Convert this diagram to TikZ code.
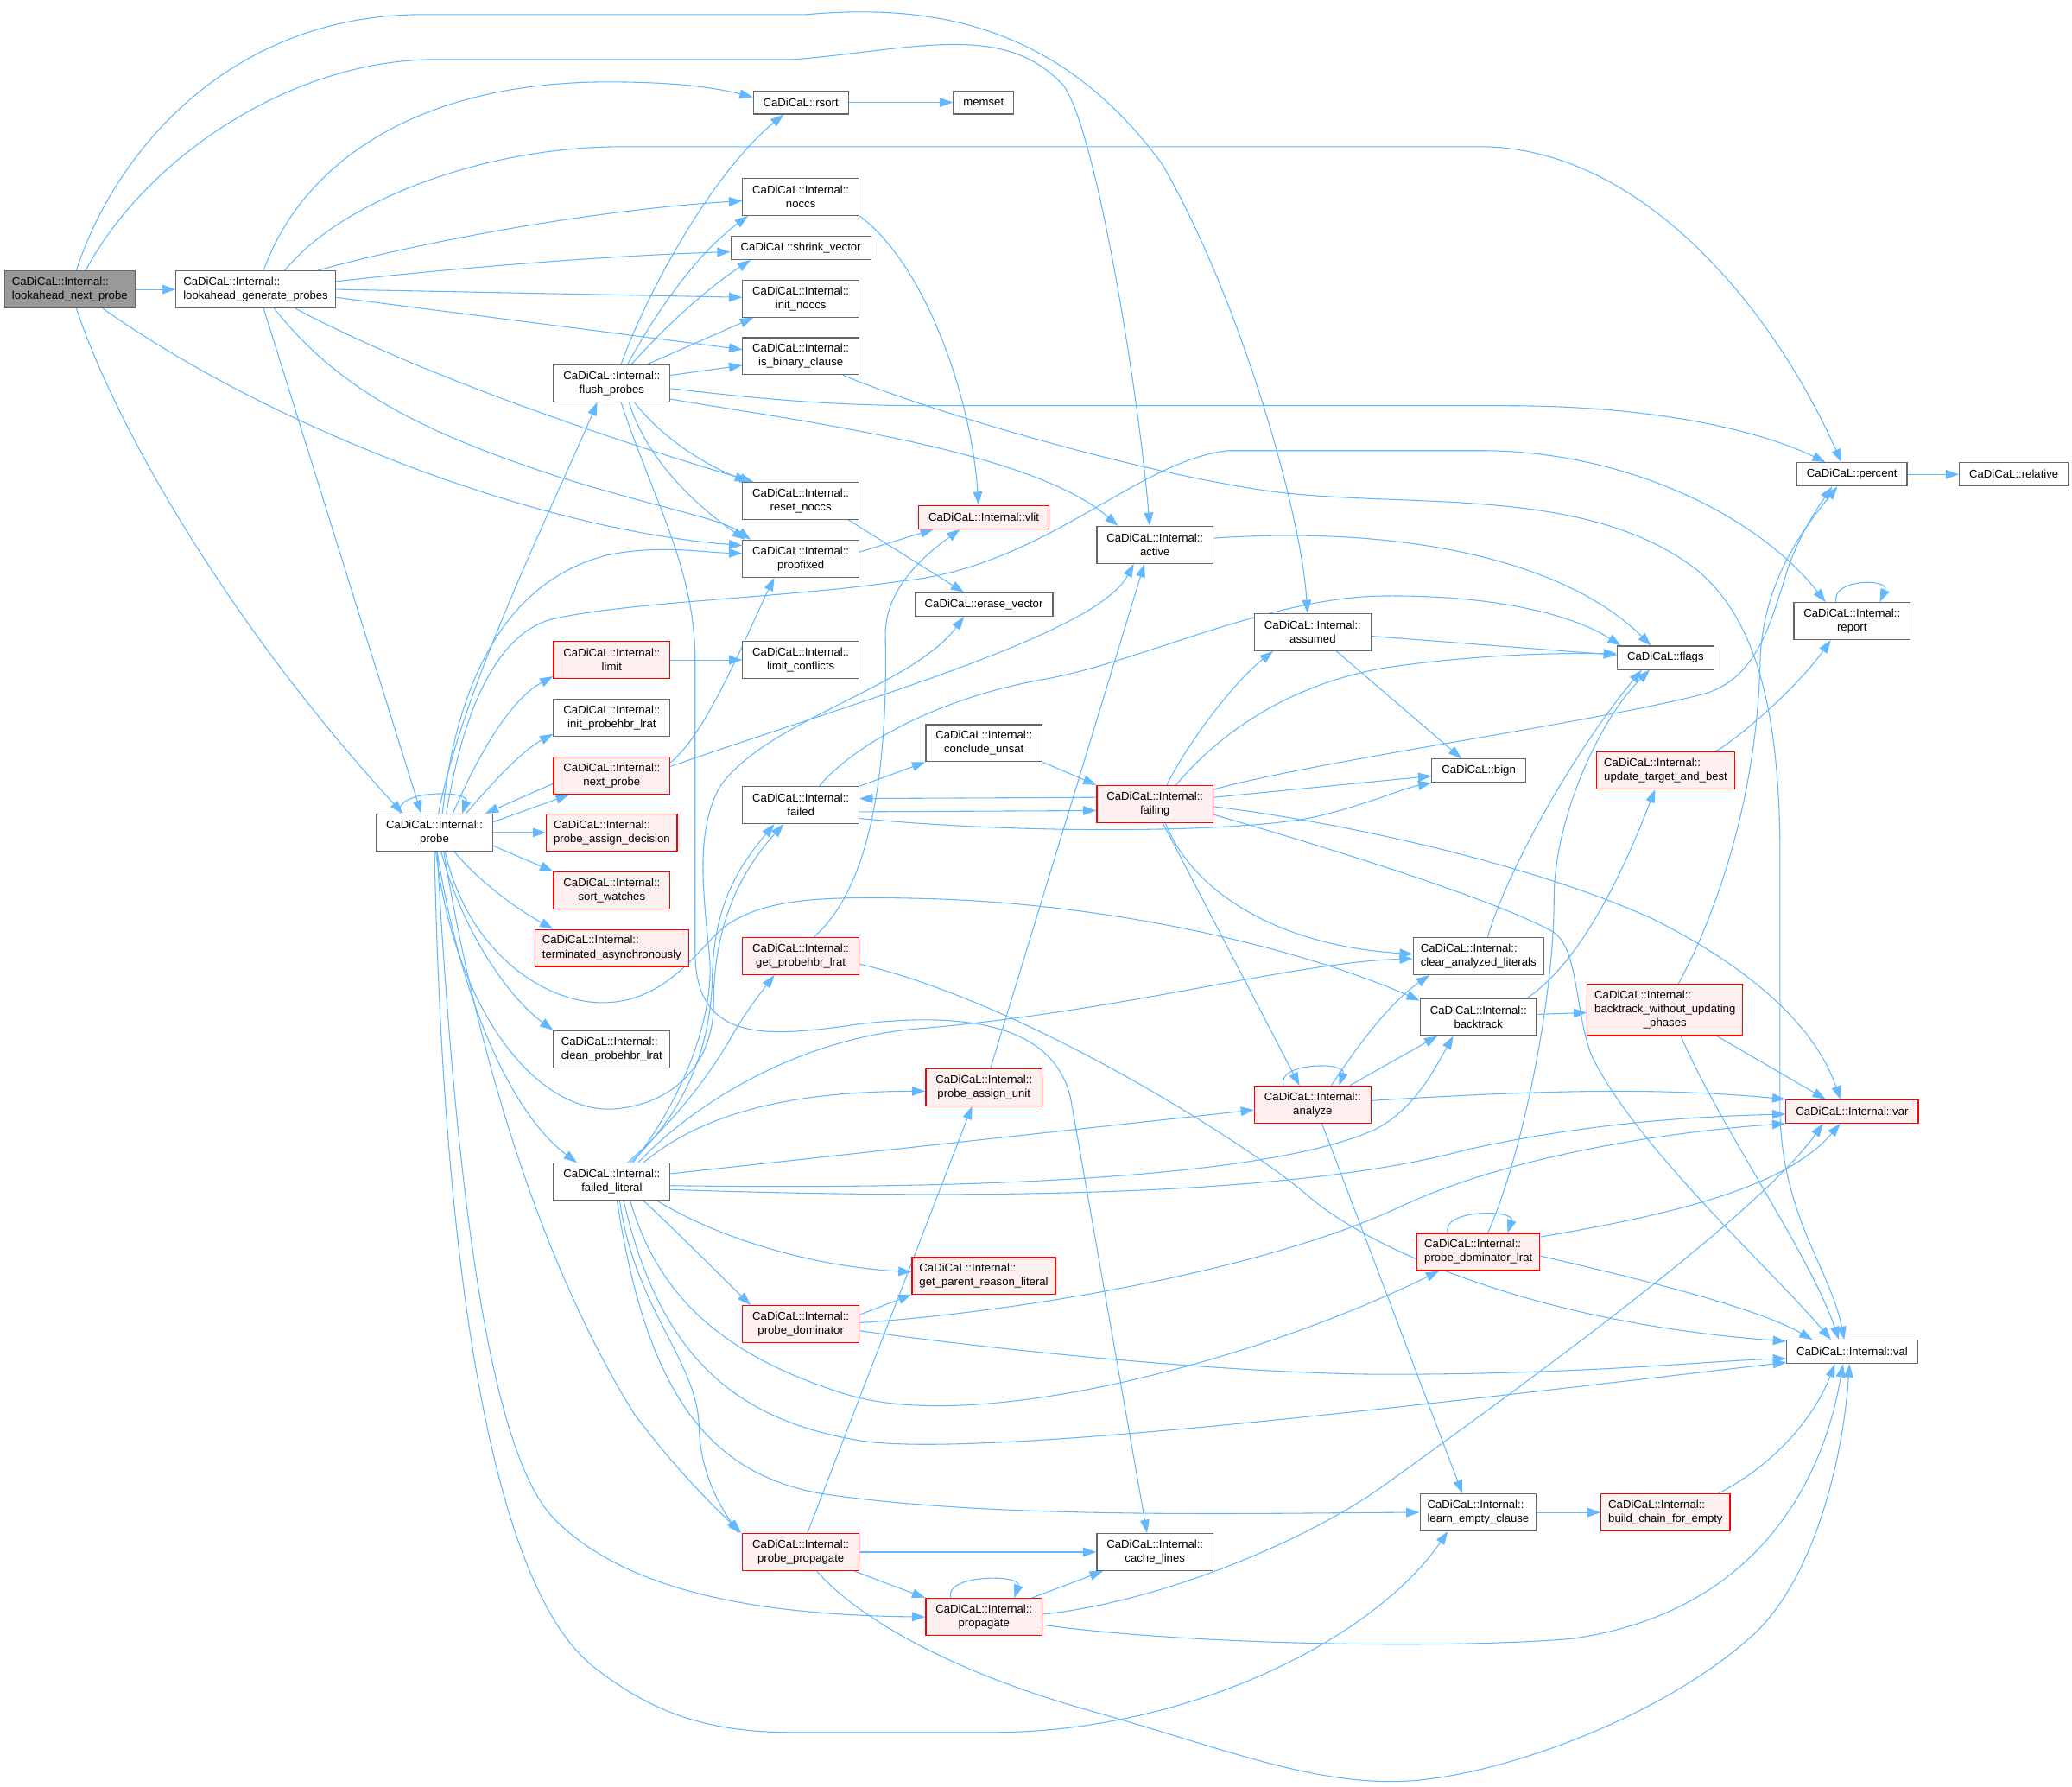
\documentclass[tikz,border=0pt]{standalone}
\usepackage{fontspec}
\setmainfont{Liberation Sans}
\usepackage{tikz}
\usetikzlibrary{arrows.meta,backgrounds}
\definecolor{frame}{HTML}{666666}
\definecolor{rootfill}{HTML}{999999}
\definecolor{alert}{HTML}{FF0000}
\definecolor{alertbg}{HTML}{FFF0F0}
\definecolor{link}{HTML}{63B8FF}

\begin{document}
\begin{tikzpicture}[
  x=1pt, y=-1pt,
  font=\fontsize{8.6}{10.5}\selectfont,
  box/.style={draw=frame,fill=white,line width=0.8pt,inner xsep=7.5pt,inner ysep=1pt,minimum height=17.6pt,align=center},
  two/.style={minimum height=28pt,minimum width=88pt,inner xsep=5.5pt},
  three/.style={minimum height=38.6pt,inner xsep=5.5pt},
  lft/.style={align=left},
  trunc/.style={draw=alert,fill=alertbg},
  root/.style={fill=rootfill},
  call/.style={-{Triangle[length=10pt,width=7pt]},draw=link,line width=0.7pt},
]
\useasboundingbox (0,0) rectangle (1568,1352);

\node[box, two, lft, root] (lnp) at (52.8,219) {CaDiCaL::Internal::\\lookahead\_next\_probe};
\node[box, two, lft] (lgp) at (193.5,219) {CaDiCaL::Internal::\\lookahead\_generate\_probes};
\node[box, two] (flush) at (463,290) {CaDiCaL::Internal::\\flush\_probes};
\node[box] (rsort) at (606,77.5) {CaDiCaL::rsort};
\node[box] (memset) at (744.3,77.5) {memset};
\node[box, two] (noccs) at (606,149) {CaDiCaL::Internal::\\noccs};
\node[box] (shrinkv) at (606,187.6) {CaDiCaL::shrink\_vector};
\node[box, two] (initnoccs) at (606,226) {CaDiCaL::Internal::\\init\_noccs};
\node[box, two] (isbin) at (606,269.5) {CaDiCaL::Internal::\\is\_binary\_clause};
\node[box, two] (resetnoccs) at (606,379) {CaDiCaL::Internal::\\reset\_noccs};
\node[box, two] (propfixed) at (606,422.8) {CaDiCaL::Internal::\\propfixed};
\node[box, trunc] (vlit) at (744.5,391.3) {CaDiCaL::Internal::vlit};
\node[box, two] (active) at (874,412.3) {CaDiCaL::Internal::\\active};
\node[box] (erasev) at (744.5,457.5) {CaDiCaL::erase\_vector};
\node[box] (percent) at (1401.5,359) {CaDiCaL::percent};
\node[box] (relative) at (1524,359) {CaDiCaL::relative};
\node[box, two] (report) at (1401.5,470) {CaDiCaL::Internal::\\report};
\node[box] (flags) at (1260.4,497.7) {CaDiCaL::flags};
\node[box, two] (assumed) at (993.4,478.4) {CaDiCaL::Internal::\\assumed};
\node[box, two, trunc] (limit) at (463,499.4) {CaDiCaL::Internal::\\limit};
\node[box, two] (limitconf) at (606,499.4) {CaDiCaL::Internal::\\limit\_conflicts};
\node[box, two] (initlrat) at (463,543) {CaDiCaL::Internal::\\init\_probehbr\_lrat};
\node[box, two, trunc] (nextprobe) at (463,587) {CaDiCaL::Internal::\\next\_probe};
\node[box, two] (conclude) at (744.6,562.3) {CaDiCaL::Internal::\\conclude\_unsat};
\node[box] (bign) at (1119,583.2) {CaDiCaL::bign};
\node[box, two, lft, trunc] (updtarget) at (1260.5,583) {CaDiCaL::Internal::\\update\_target\_and\_best};
\node[box, two] (probe) at (328.8,630) {CaDiCaL::Internal::\\probe};
\node[box, two, lft, trunc] (assigndec) at (463,630) {CaDiCaL::Internal::\\probe\_assign\_decision};
\node[box, two] (failed) at (606,609.3) {CaDiCaL::Internal::\\failed};
\node[box, two, trunc] (failing) at (874,608.4) {CaDiCaL::Internal::\\failing};
\node[box, two, trunc] (sortw) at (463,673.8) {CaDiCaL::Internal::\\sort\_watches};
\node[box, two, lft, trunc] (termasync) at (463,717.4) {CaDiCaL::Internal::\\terminated\_asynchronously};
\node[box, two, trunc] (getlrat) at (606,723.5) {CaDiCaL::Internal::\\get\_probehbr\_lrat};
\node[box, two, lft] (clearana) at (1118.8,723.5) {CaDiCaL::Internal::\\clear\_analyzed\_literals};
\node[box, two] (backtrack) at (1118.8,769.6) {CaDiCaL::Internal::\\backtrack};
\node[box, three, trunc] (btwup) at (1260,764.3) {\begin{tabular}{@{}l@{}}CaDiCaL::Internal::\\backtrack\_without\_updating\\\multicolumn{1}{@{}c@{}}{\_phases}\end{tabular}};
\node[box, two, lft] (cleanlrat) at (463,794) {CaDiCaL::Internal::\\clean\_probehbr\_lrat};
\node[box, two, trunc] (assignunit) at (744.6,822.7) {CaDiCaL::Internal::\\probe\_assign\_unit};
\node[box, two, trunc] (analyze) at (993.4,835.9) {CaDiCaL::Internal::\\analyze};
\node[box, trunc] (var) at (1401.6,841.1) {CaDiCaL::Internal::var};
\node[box, two] (failedlit) at (463,894.2) {CaDiCaL::Internal::\\failed\_literal};
\node[box, two, lft, trunc] (domlrat) at (1118.8,947.4) {CaDiCaL::Internal::\\probe\_dominator\_lrat};
\node[box, two, lft, trunc] (parentreason) at (744.5,965.6) {CaDiCaL::Internal::\\get\_parent\_reason\_literal};
\node[box, two, trunc] (dominator) at (606,1002) {CaDiCaL::Internal::\\probe\_dominator};
\node[box] (val) at (1401.6,1023) {CaDiCaL::Internal::val};
\node[box, two, lft] (learnempty) at (1118.6,1144.5) {CaDiCaL::Internal::\\learn\_empty\_clause};
\node[box, two, lft, trunc] (buildchain) at (1260.4,1144.5) {CaDiCaL::Internal::\\build\_chain\_for\_empty};
\node[box, two, trunc] (probeprop) at (606,1174.5) {CaDiCaL::Internal::\\probe\_propagate};
\node[box, two] (cachelines) at (874,1174.5) {CaDiCaL::Internal::\\cache\_lines};
\node[box, two, trunc] (propagate) at (744.6,1223.6) {CaDiCaL::Internal::\\propagate};

\begin{scope}[on background layer]
\draw[call] (lnp) -- (lgp);
\draw[call] ([xshift=5pt]lnp.north) .. controls (85,120) and (170,11) .. (320,11) -- (610,11) .. controls (700,3) and (800,15) .. (880,125) .. controls (940,230) and (985,390) .. ([xshift=-4pt]assumed.north);
\draw[call] ([xshift=12pt]lnp.north) .. controls (110,120) and (220,45) .. (330,45) -- (600,45) .. controls (690,38) and (760,15) .. (805,65) .. controls (830,100) and (862,300) .. ([xshift=-4pt]active.north);
\draw[call] ([xshift=5pt]lnp.south) .. controls (90,330) and (180,480) .. ([xshift=-24pt]probe.north);
\draw[call] ([xshift=25pt]lnp.south) .. controls (200,320) and (400,400) .. ([yshift=10pt]propfixed.west);

\draw[call] ([xshift=6pt]lgp.north) .. controls (230,120) and (320,62) .. (460,62) .. controls (510,62) and (540,66) .. ([yshift=4pt]rsort.west);
\draw[call] ([xshift=22pt]lgp.north) .. controls (260,150) and (370,111) .. (470,111) -- (1120,111) .. controls (1240,111) and (1340,230) .. ([xshift=-8pt]percent.north);
\draw[call] ([xshift=47pt]lgp.north) .. controls (330,180) and (460,158) .. ([yshift=-3pt]noccs.west);
\draw[call] ([yshift=6pt]lgp.east) .. controls (350,202) and (470,193) .. ([yshift=-3pt]shrinkv.west);
\draw[call] (lgp.east) -- ([yshift=1pt]initnoccs.west);
\draw[call] ([yshift=-6pt]lgp.east) -- ([yshift=5pt]isbin.west);
\draw[call] ([xshift=30pt]lgp.south) .. controls (320,285) and (470,335) .. ([xshift=-36pt]resetnoccs.north);
\draw[call] ([xshift=14pt]lgp.south) .. controls (260,300) and (330,330) .. (420,360) .. controls (500,385) and (545,392) .. ([xshift=-38pt]propfixed.north);
\draw[call] ([xshift=6pt]lgp.south) -- ([xshift=-10pt]probe.north);

\draw[call] ([xshift=7pt]flush.north) .. controls (490,220) and (540,130) .. ([xshift=-13pt]rsort.south);
\draw[call] ([xshift=12pt]flush.north) .. controls (500,230) and (530,190) .. ([xshift=-40pt]noccs.south);
\draw[call] ([xshift=15pt]flush.north) .. controls (510,240) and (540,215) .. ([xshift=-38pt]shrinkv.south);
\draw[call] ([xshift=27pt]flush.north) -- ([xshift=-36pt]initnoccs.south);
\draw[call] ([yshift=6pt]flush.east) -- ([yshift=-7pt]isbin.west);
\draw[call] ([yshift=-4pt]flush.east) .. controls (560,300) and (620,307) .. (700,307) -- (1140,307) .. controls (1250,307) and (1330,325) .. ([xshift=-20pt]percent.north);
\draw[call] ([yshift=-12pt]flush.east) .. controls (600,318) and (780,340) .. ([xshift=-28pt]active.north);
\draw[call] ([xshift=17pt]flush.south) .. controls (500,330) and (530,350) .. ([xshift=-40pt]resetnoccs.north);
\draw[call] ([xshift=13pt]flush.south) .. controls (490,350) and (530,385) .. ([xshift=-42pt]propfixed.north);
\draw[call] ([xshift=7pt]flush.south) .. controls (495,380) and (526,430) .. (526,500) -- (526,720) .. controls (526,790) and (580,785) .. (650,775) .. controls (760,762) and (800,790) .. (810,830) -- ([xshift=-6pt]cachelines.north);

\draw[call] ([xshift=-26pt]probe.north) .. controls +(-6,-18) and +(6,-18) .. ([xshift=21pt]probe.north);
\draw[call] ([xshift=3pt]probe.north) .. controls (350,520) and (420,380) .. ([xshift=-11pt]flush.south);
\draw[call] ([xshift=6pt]probe.north) .. controls (345,520) and (380,440) .. (460,420) .. controls (500,412) and (530,418) .. ([yshift=4pt]propfixed.west);
\draw[call] ([xshift=9pt]probe.north) .. controls (350,540) and (375,478) .. (420,468) .. controls (480,455) and (600,452) .. (680,440) .. controls (790,430) and (860,348) .. (930,341) -- (1120,341) .. controls (1230,341) and (1330,390) .. ([xshift=-20pt]report.north);
\draw[call] ([xshift=14pt]probe.north) .. controls (360,575) and (385,530) .. ([yshift=2pt]limit.south west);
\draw[call] ([xshift=24pt]probe.north) .. controls (370,595) and (395,568) .. ([yshift=2pt]initlrat.south west);
\draw[call] ([yshift=-6pt]nextprobe.west) -- ([xshift=-6pt]probe.north east);
\draw[call] ([yshift=8pt]probe.east) -- ([xshift=12pt]nextprobe.south west);
\draw[call] (probe) -- (assigndec);
\draw[call] ([yshift=-10pt]probe.east) -- (sortw.north west);
\draw[call] ([xshift=15pt]probe.south) .. controls (365,670) and (395,690) .. ([xshift=14pt]termasync.north west);
\draw[call] ([xshift=5pt]probe.south) .. controls (350,705) and (385,755) .. (cleanlrat.north west);
\draw[call] ([xshift=2pt]probe.south) .. controls (350,765) and (390,845) .. ([xshift=18pt]failedlit.north west);
\draw[call] ([xshift=8pt]probe.south) .. controls (355,725) and (420,765) .. (467,758) .. controls (510,752) and (530,715) .. (550,700) .. controls (580,680) and (620,678) .. (700,680) .. controls (850,684) and (990,720) .. ([yshift=-2pt]backtrack.north west);
\draw[call] ([xshift=1pt]probe.south) .. controls (345,770) and (410,845) .. (467,839) .. controls (515,834) and (540,800) .. (540,760) .. controls (540,700) and (560,660) .. ([xshift=-13pt]failed.south);
\draw[call] ([xshift=7pt]probe.south) .. controls (370,850) and (430,990) .. (480,1070) .. controls (510,1110) and (535,1135) .. ([xshift=-45pt]probeprop.north);
\draw[call] ([xshift=2pt]probe.south) .. controls (345,900) and (370,1100) .. (420,1150) .. controls (470,1200) and (560,1222) .. (propagate.west);
\draw[call] (probe.south) .. controls (335,950) and (370,1200) .. (450,1262) .. controls (490,1293) and (530,1311) .. (600,1311) -- (750,1311) .. controls (900,1311) and (1040,1240) .. ([xshift=-23pt]learnempty.south);

\draw[call] ([yshift=10pt]nextprobe.east) .. controls (535,555) and (565,480) .. ([xshift=-20pt]propfixed.south);
\draw[call] ([yshift=7pt]nextprobe.east) .. controls (650,530) and (830,480) .. ([xshift=-16pt]active.south);
\draw[call] (limit) -- (limitconf);

\draw[call] (noccs.south east) .. controls (700,200) and (735,300) .. ([xshift=-4pt]vlit.north);
\draw[call] ([yshift=5pt]propfixed.east) -- ([xshift=-38pt]vlit.south);
\draw[call] ([xshift=10pt]getlrat.north) .. controls (660,670) and (672,580) .. (670,480) .. controls (670,445) and (700,420) .. ([xshift=-18pt]vlit.south);
\draw[call] ([yshift=-6pt]getlrat.east) .. controls (780,760) and (950,870) .. (990,905) .. controls (1030,940) and (1150,1000) .. ([yshift=8pt]val.west);
\draw[call] ([xshift=36pt]resetnoccs.south) -- ([xshift=-15pt]erasev.north);

\draw[call] ([xshift=16pt]failedlit.north) .. controls (525,820) and (540,760) .. (537,725) .. controls (533,680) and (525,630) .. (545,595) .. controls (580,545) and (690,520) .. ([xshift=-15pt]erasev.south);
\draw[call] ([xshift=14pt]failedlit.north) .. controls (520,840) and (538,790) .. (539,740) .. controls (540,690) and (555,660) .. ([xshift=-20pt]failed.south);
\draw[call] ([xshift=12pt]failedlit.north) .. controls (520,840) and (545,800) .. (555,782) .. controls (565,765) and (575,752) .. ([xshift=-20pt]getlrat.south);
\draw[call] ([xshift=20pt]failedlit.north) .. controls (520,840) and (600,785) .. (700,778) .. controls (850,765) and (980,728) .. ([yshift=-2pt]clearana.west);
\draw[call] ([xshift=24pt]failedlit.north) .. controls (540,835) and (620,826) .. ([yshift=-3pt]assignunit.west);
\draw[call] ([yshift=6pt]failedlit.east) -- ([yshift=-4pt]analyze.west);
\draw[call] ([yshift=-3pt]failedlit.east) .. controls (700,900) and (950,895) .. (1040,855) .. controls (1070,840) and (1085,810) .. ([xshift=-19pt]backtrack.south);
\draw[call] ([yshift=-6pt]failedlit.east) .. controls (800,910) and (1000,900) .. (1110,870) .. controls (1200,850) and (1280,845) .. ([yshift=-2pt]var.west);
\draw[call] ([xshift=-10pt]failedlit.south east) .. controls (540,935) and (610,958) .. ([yshift=3pt]parentreason.west);
\draw[call] ([xshift=24pt]failedlit.south) .. controls (510,930) and (545,965) .. ([xshift=-38pt]dominator.north);
\draw[call] ([xshift=14pt]failedlit.south) .. controls (500,990) and (560,1030) .. (640,1055) .. controls (740,1086) and (950,1030) .. ([xshift=17pt]domlrat.south west);
\draw[call] ([xshift=9pt]failedlit.south) .. controls (500,1030) and (560,1075) .. (650,1090) .. controls (740,1105) and (1100,1060) .. ([yshift=-8pt]val.west);
\draw[call] ([xshift=4pt]failedlit.south) .. controls (490,1060) and (540,1115) .. (620,1130) .. controls (750,1150) and (950,1145) .. (learnempty.west);
\draw[call] ([xshift=6pt]failedlit.south) .. controls (480,990) and (528,1030) .. (529,1080) .. controls (530,1115) and (545,1140) .. ([xshift=-47pt]probeprop.north);

\draw[call] ([yshift=7pt]dominator.east) -- ([yshift=-14pt]parentreason.west);
\draw[call] ([yshift=1pt]dominator.east) .. controls (780,992) and (960,960) .. (1060,913) .. controls (1150,871) and (1280,855) .. (var.south west);
\draw[call] ([yshift=-5pt]dominator.east) .. controls (780,1025) and (950,1040) .. (1050,1040) .. controls (1200,1040) and (1290,1030) .. ([yshift=-5pt]val.west);

\draw[call] ([xshift=-23pt]domlrat.north) .. controls +(-6,-18) and +(6,-18) .. ([xshift=22pt]domlrat.north);
\draw[call] ([xshift=7pt]domlrat.north) .. controls (1150,880) and (1176,760) .. (1176,680) .. controls (1176,620) and (1210,545) .. ([xshift=-12pt]flags.south);
\draw[call] ([yshift=-3pt]domlrat.north east) .. controls (1260,920) and (1350,900) .. ([xshift=-9pt]var.south);
\draw[call] ([yshift=-3pt]domlrat.east) .. controls (1250,970) and (1330,990) .. ([xshift=-30pt]val.north);

\draw[call] ([yshift=5pt]failing.west) -- ([yshift=5pt]failed.east);
\draw[call] ([yshift=-5pt]failed.east) -- ([yshift=-5pt]failing.west);
\draw[call] (failed.north east) -- (conclude.south west);
\draw[call] (conclude.south east) -- (failing.north west);
\draw[call] ([yshift=-10pt]failed.east) .. controls (780,632) and (950,630) .. (1000,617) .. controls (1040,607) and (1060,597) .. (bign.south west);
\draw[call] ([xshift=14pt]failed.north) .. controls (640,570) and (700,530) .. (790,514) .. controls (860,502) and (960,452) .. (1046,451) .. controls (1130,450) and (1190,465) .. ([xshift=3pt]flags.north west);

\draw[call] ([xshift=9pt]failing.north) .. controls (900,560) and (935,515) .. ([xshift=-30pt]assumed.south);
\draw[call] ([xshift=16pt]failing.north) .. controls (910,570) and (960,520) .. (1050,505) .. controls (1120,495) and (1180,494) .. ([yshift=3pt]flags.west);
\draw[call] ([yshift=5pt]failing.east) -- ([yshift=-4pt]bign.west);
\draw[call] ([yshift=11pt]failing.east) .. controls (1000,575) and (1200,548) .. (1290,525) .. controls (1330,513) and (1340,470) .. (1350,440) .. controls (1358,410) and (1375,385) .. ([xshift=-15pt]percent.south);
\draw[call] ([yshift=-2pt]failing.east) .. controls (1000,620) and (1150,650) .. (1250,695) .. controls (1330,735) and (1375,780) .. ([xshift=-9pt]var.north);
\draw[call] ([yshift=-8pt]failing.east) .. controls (1000,640) and (1130,680) .. (1175,705) .. controls (1195,717) and (1192,770) .. (1205,800) .. controls (1240,870) and (1340,960) .. ([xshift=-16pt]val.north);
\draw[call] ([xshift=8pt]failing.south) .. controls (900,670) and (960,715) .. ([yshift=1.5pt]clearana.west);
\draw[call] ([xshift=6pt]failing.south) -- ([xshift=-10pt]analyze.north);

\draw[call] ([xshift=-22pt]analyze.north) .. controls +(-6,-18) and +(6,-18) .. ([xshift=20pt]analyze.north);
\draw[call] ([xshift=14pt]analyze.north) .. controls (1025,795) and (1050,760) .. ([xshift=-37pt]clearana.south);
\draw[call] ([xshift=28pt]analyze.north) -- ([xshift=-31pt]backtrack.south);
\draw[call] ([yshift=3pt]analyze.east) .. controls (1150,826) and (1250,822) .. (var.north west);
\draw[call] ([xshift=7pt]analyze.south) -- ([xshift=-12pt]learnempty.north);

\draw[call] ([xshift=7pt]clearana.north) .. controls (1140,660) and (1190,570) .. ([xshift=-18pt]flags.south);
\draw[call] ([yshift=2pt]backtrack.east) -- ([yshift=-2pt]btwup.west);
\draw[call] ([xshift=37pt]backtrack.north) .. controls (1200,725) and (1232,650) .. ([xshift=-8pt]updtarget.south);
\draw[call] ([xshift=10pt]btwup.north) .. controls (1300,690) and (1330,600) .. (1332,500) .. controls (1334,440) and (1365,400) .. ([xshift=-11pt]percent.south);
\draw[call] ([xshift=-20pt]btwup.south east) -- ([xshift=-20pt]var.north);
\draw[call] ([xshift=12pt]btwup.south) .. controls (1300,850) and (1370,950) .. ([xshift=-10pt]val.north);
\draw[call] ([xshift=38pt]updtarget.north) .. controls (1320,555) and (1360,520) .. ([xshift=-16pt]report.south);
\draw[call] ([xshift=-12pt]report.north) .. controls +(-4,-18) and +(8,-18) .. ([xshift=21pt]report.north);

\draw[call] (percent) -- (relative);
\draw[call] (rsort) -- (memset);
\draw[call] ([yshift=-3pt]assumed.east) -- ([yshift=2pt]flags.west);
\draw[call] ([xshift=18pt]assumed.south) -- ([xshift=-13pt]bign.north);
\draw[call] ([yshift=5pt]active.east) .. controls (1050,398) and (1180,420) .. ([xshift=-11pt]flags.north);
\draw[call] ([xshift=32pt]isbin.south) .. controls (700,310) and (850,355) .. (956,371) .. controls (1060,386) and (1200,365) .. (1285,432) .. controls (1330,470) and (1346,540) .. (1347,640) -- (1347,840) .. controls (1348,920) and (1385,960) .. ([xshift=-6pt]val.north);

\draw[call] ([xshift=5pt]assignunit.north) -- ([xshift=-8pt]active.south);
\draw[call] (probeprop) -- (cachelines);
\draw[call] ([xshift=-4pt]probeprop.south east) -- (propagate.north west);
\draw[call] ([xshift=5pt]probeprop.north) -- ([xshift=-9pt]assignunit.south);
\draw[call] ([xshift=12pt]probeprop.south) .. controls (650,1225) and (720,1265) .. (823,1294) .. controls (926,1323) and (990,1350) .. (1060,1348) .. controls (1130,1346) and (1260,1300) .. (1329,1235) .. controls (1375,1190) and (1395,1100) .. ([xshift=-2pt]val.south);

\draw[call] ([xshift=-25pt]propagate.north) .. controls +(-6,-18) and +(6,-18) .. ([xshift=23pt]propagate.north);
\draw[call] ([xshift=-8pt]propagate.north east) -- ([xshift=5pt]cachelines.south west);
\draw[call] ([yshift=2pt]propagate.east) .. controls (880,1212) and (990,1165) .. (1046,1125) .. controls (1150,1050) and (1330,920) .. ([xshift=-22pt]var.south);
\draw[call] ([yshift=-6pt]propagate.east) .. controls (900,1245) and (1100,1248) .. (1190,1240) .. controls (1330,1220) and (1380,1120) .. ([xshift=-7pt]val.south);

\draw[call] (learnempty) -- (buildchain);
\draw[call] ([xshift=40pt]buildchain.north) .. controls (1340,1110) and (1372,1075) .. ([xshift=-13pt]val.south);
\end{scope}
\end{tikzpicture}
\end{document}
